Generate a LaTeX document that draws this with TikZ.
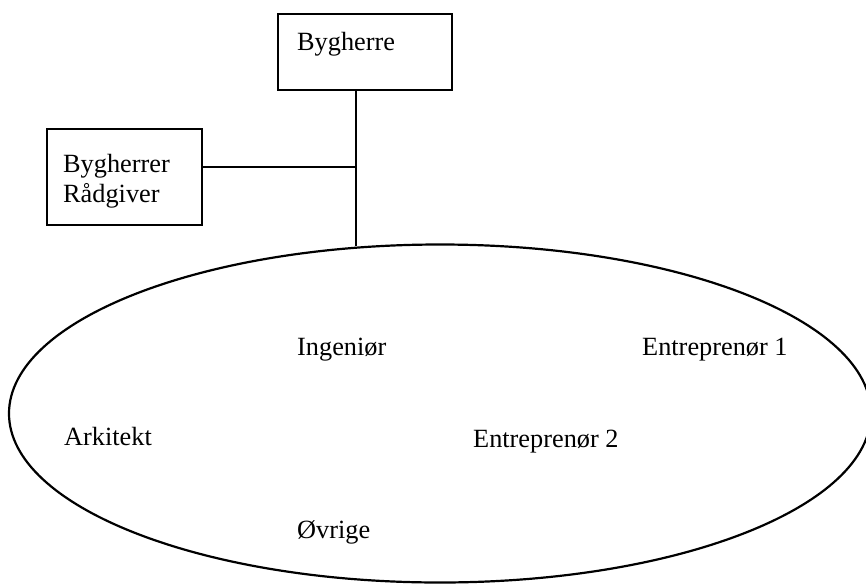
\documentclass[tikz,border=0pt]{standalone}
\usepackage{fontspec}
\setmainfont{Liberation Serif}
\usetikzlibrary{shapes.geometric}
\tikzset{
  box/.style={draw, line width=2.2pt, rectangle, inner sep=0pt},
  label/.style={anchor=base west, inner sep=0pt, align=left,
    font=\fontsize{26.3}{30}\selectfont},
  link/.style={line width=1.6pt},
  party/.style={draw, line width=2.2pt, ellipse, inner sep=0pt}
}
\begin{document}
\begin{tikzpicture}[x=1pt, y=-1pt]
  \useasboundingbox (0,0) rectangle (866,586);
  % owner and owner's advisor
  \node[box, minimum width=174pt, minimum height=76pt] (owner) at (365,52) {};
  \node[label] (ownertext) at (297,50) {Bygherre};
  \node[box, minimum width=155pt, minimum height=96pt] (advisor) at (124.5,177) {};
  % base anchor of a two-line node sits on the last line
  \node[label] (advisortext) at (63,202) {Bygherrer\\Rådgiver};
  % project group
  \node[party, minimum width=862pt, minimum height=338pt] (group) at (440,413.5) {};
  \node[label] (ing) at (297,355) {Ingeniør};
  \node[label] (ent1) at (642,355) {Entreprenør 1};
  \node[label] (ark) at (64,445) {Arkitekt};
  \node[label] (ent2) at (473,447) {Entreprenør 2};
  \node[label] (ovr) at (297,538) {Øvrige};
  % connections
  \coordinate (joint) at (356,167);
  \coordinate (grouptop) at (356,245.5);
  \draw[link] (owner.south -| joint) -- (grouptop);
  \draw[link] (advisor.east |- joint) -- (joint);
\end{tikzpicture}
\end{document}
